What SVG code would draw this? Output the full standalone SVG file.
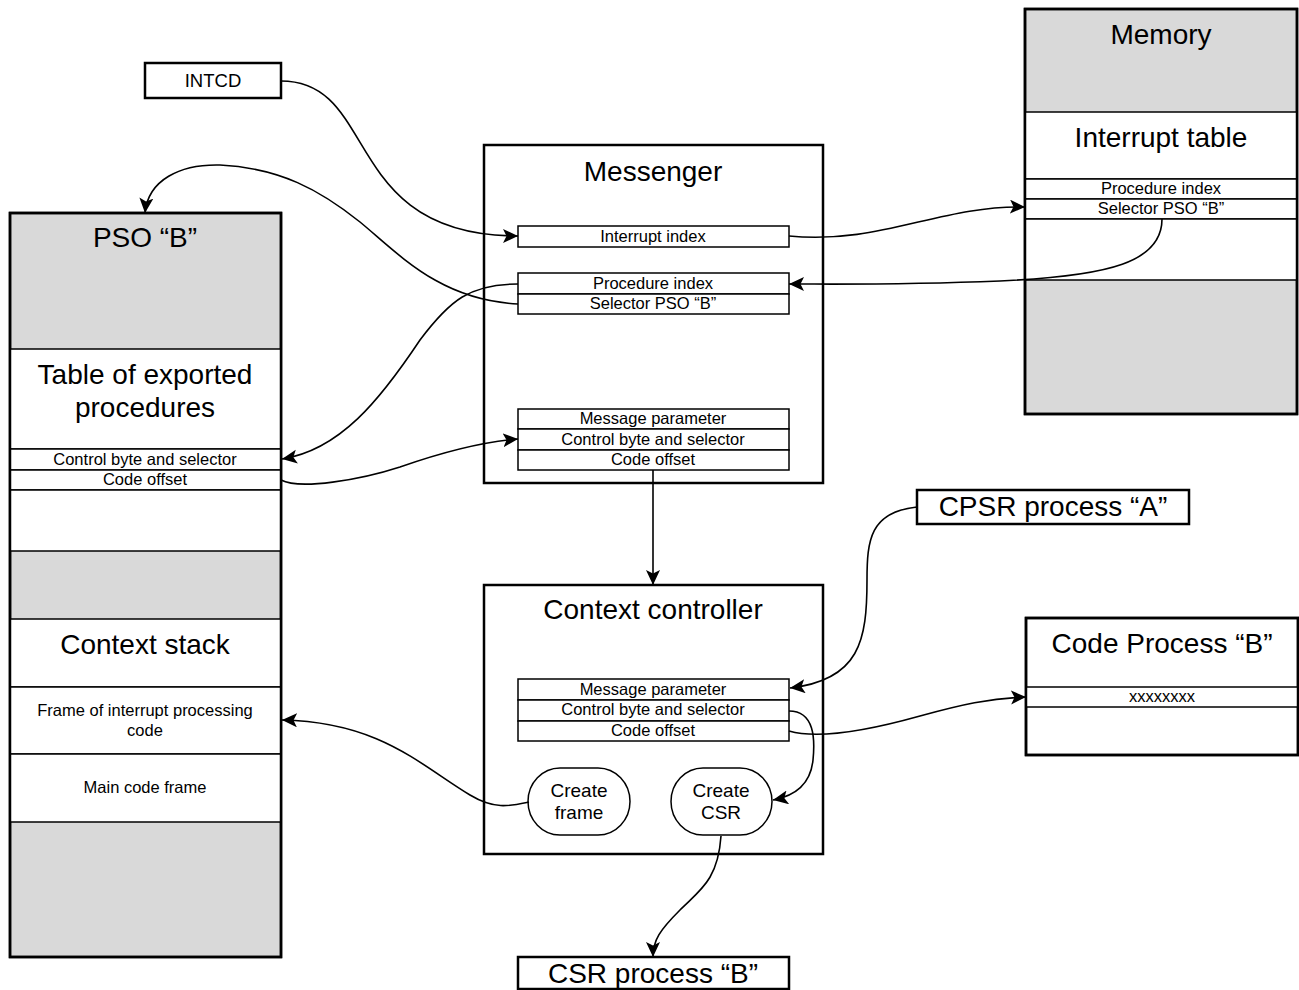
<svg xmlns="http://www.w3.org/2000/svg" width="1299" height="990" viewBox="0 0 1299 990">
<style>
text{font-family:"Liberation Sans",Arial,sans-serif;fill:#000;text-anchor:middle}
.big{font-size:28px}
.sm{font-size:16.5px}
.md{font-size:19px}
.box{fill:#fff;stroke:#000;stroke-width:2.5}
.gbox{fill:#d9d9d9;stroke:#000;stroke-width:2.5}
.sec{fill:#fff;stroke:#000;stroke-width:1.5}
.row{fill:#fff;stroke:#000;stroke-width:1.5}
.con{fill:none;stroke:#000;stroke-width:1.6}
</style>
<defs>
<marker id="arr" markerUnits="userSpaceOnUse" markerWidth="18" markerHeight="16" refX="15" refY="7" orient="auto">
<path d="M0,0 L15,7 L0,14 L3.5,7 z" fill="#000"/>
</marker>
</defs>

<g id="intcd">
<rect class="box" x="145" y="63" width="136" height="35"/>
<text x="213" y="87" style="font-size:18.5px">INTCD</text>
</g>

<g id="pso">
<rect class="gbox" x="10" y="213" width="271" height="744"/>
<rect class="sec" x="10" y="349" width="271" height="100"/>
<rect class="row" x="10" y="449" width="271" height="21"/>
<rect class="row" x="10" y="470" width="271" height="20"/>
<rect class="sec" x="10" y="490" width="271" height="61"/>
<rect class="sec" x="10" y="619" width="271" height="68"/>
<rect class="sec" x="10" y="687" width="271" height="67"/>
<rect class="sec" x="10" y="754" width="271" height="68"/>
<rect x="10" y="213" width="271" height="744" fill="none" stroke="#000" stroke-width="2.5"/>
<text class="big" x="145" y="247">PSO “B”</text>
<text class="big" x="145" y="384">Table of exported</text>
<text class="big" x="145" y="417">procedures</text>
<text class="sm" x="145" y="465">Control byte and selector</text>
<text class="sm" x="145" y="485">Code offset</text>
<text class="big" x="145" y="654">Context stack</text>
<text class="sm" x="145" y="716">Frame of interrupt processing</text>
<text class="sm" x="145" y="736">code</text>
<text class="sm" x="145" y="793">Main code frame</text>
</g>

<g id="messenger">
<rect class="box" x="484" y="145" width="339" height="338"/>
<text class="big" x="653" y="181">Messenger</text>
<rect class="row" x="518" y="226" width="271" height="21"/>
<text class="sm" x="653" y="242">Interrupt index</text>
<rect class="row" x="518" y="273" width="271" height="21"/>
<rect class="row" x="518" y="294" width="271" height="20"/>
<text class="sm" x="653" y="289">Procedure index</text>
<text class="sm" x="653" y="309">Selector PSO “B”</text>
<rect class="row" x="518" y="409" width="271" height="20"/>
<rect class="row" x="518" y="429" width="271" height="21"/>
<rect class="row" x="518" y="450" width="271" height="20"/>
<text class="sm" x="653" y="424">Message parameter</text>
<text class="sm" x="653" y="445">Control byte and selector</text>
<text class="sm" x="653" y="465">Code offset</text>
</g>

<g id="memory">
<rect class="gbox" x="1025" y="9" width="272" height="405"/>
<rect class="sec" x="1025" y="112" width="272" height="67"/>
<rect class="row" x="1025" y="179" width="272" height="20"/>
<rect class="row" x="1025" y="199" width="272" height="20"/>
<rect class="sec" x="1025" y="219" width="272" height="61"/>
<rect x="1025" y="9" width="272" height="405" fill="none" stroke="#000" stroke-width="2.5"/>
<text class="big" x="1161" y="44">Memory</text>
<text class="big" x="1161" y="147">Interrupt table</text>
<text class="sm" x="1161" y="194">Procedure index</text>
<text class="sm" x="1161" y="214">Selector PSO “B”</text>
</g>

<g id="context">
<rect class="box" x="484" y="585" width="339" height="269"/>
<text class="big" x="653" y="619">Context controller</text>
<rect class="row" x="518" y="679" width="271" height="21"/>
<rect class="row" x="518" y="700" width="271" height="21"/>
<rect class="row" x="518" y="721" width="271" height="20"/>
<text class="sm" x="653" y="695">Message parameter</text>
<text class="sm" x="653" y="715">Control byte and selector</text>
<text class="sm" x="653" y="736">Code offset</text>
</g>

<g id="create-frame">
<rect class="sec" x="528" y="768" width="102" height="67" rx="32" ry="33.5"/>
<text class="md" x="579" y="797">Create</text>
<text class="md" x="579" y="819">frame</text>
</g>

<g id="create-csr">
<rect class="sec" x="671" y="768" width="101" height="67" rx="32" ry="33.5"/>
<text class="md" x="721" y="797">Create</text>
<text class="md" x="721" y="819">CSR</text>
</g>

<g id="cpsr-a">
<rect class="box" x="917" y="490" width="272" height="34"/>
<text class="big" x="1053" y="516">CPSR process “A”</text>
</g>

<g id="code-b">
<rect class="box" x="1026" y="618" width="272" height="137"/>
<rect class="row" x="1026" y="687" width="272" height="20"/>
<rect x="1026" y="618" width="272" height="137" fill="none" stroke="#000" stroke-width="2.5"/>
<text class="big" x="1162" y="653">Code Process “B”</text>
<text class="sm" x="1162" y="702">xxxxxxxx</text>
</g>

<g id="csr-b">
<rect class="box" x="518" y="957" width="271" height="32"/>
<text class="big" x="653" y="983">CSR process “B”</text>
</g>

<g id="connectors">
<path class="con" marker-end="url(#arr)" d="M281,81 C380,81 340,236 518,236"/>
<path class="con" marker-end="url(#arr)" d="M518,304 C440,300 400,255 360,222 C320,190 280,168 220,165 C180,164 148,180 145,213"/>
<path class="con" marker-end="url(#arr)" d="M518,284 C470,284 450,300 420,340 C380,400 340,450 282,459"/>
<path class="con" marker-end="url(#arr)" d="M281,480 C300,490 360,480 400,467 C440,453 480,442 518,439"/>
<path class="con" marker-end="url(#arr)" d="M789,236 C880,245 940,205 1025,207"/>
<path class="con" marker-end="url(#arr)" d="M1162,219 C1162,262 1110,276 1000,281 C900,285 840,284 789,284"/>
<path class="con" marker-end="url(#arr)" d="M653,470 L653,585"/>
<path class="con" marker-end="url(#arr)" d="M917,507 C870,512 867,540 867,580 C867,640 860,680 790,688"/>
<path class="con" marker-end="url(#arr)" d="M789,731 C820,740 870,730 920,716 C960,705 990,698 1026,697"/>
<path class="con" marker-end="url(#arr)" d="M789,711 C815,711 815,740 813,760 C811,780 800,795 773,800"/>
<path class="con" marker-end="url(#arr)" d="M529,802 C510,806 495,810 470,795 C420,765 380,722 282,720"/>
<path class="con" marker-end="url(#arr)" d="M721,836 C718,880 700,890 680,910 C660,930 653,940 653,957"/>
</g>
</svg>
